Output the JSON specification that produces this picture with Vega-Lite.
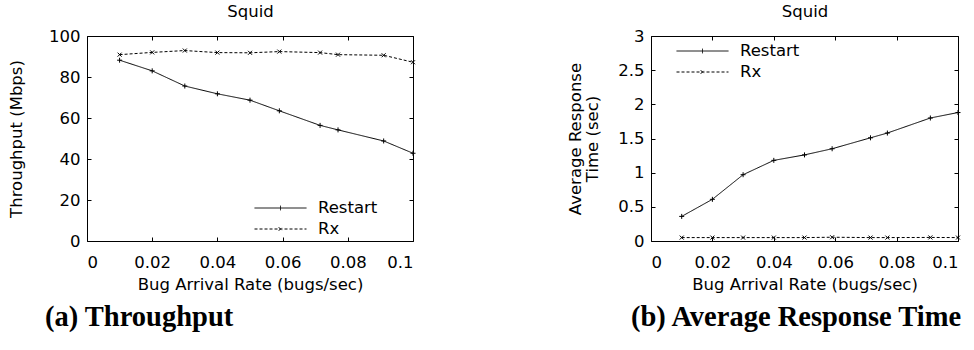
{
  "$schema": "https://vega.github.io/schema/vega-lite/v6.json",
  "background": "white",
  "padding": {"left": 8, "top": 3, "right": 5, "bottom": 5},
  "bounds": "flush",
  "spacing": 238,
  "resolve": {"scale": {"strokeDash": "independent"}, "legend": {"strokeDash": "independent"}},
  "datasets": {
    "throughput": [
      {"rate": 0.01, "series": "Restart", "value": 88.2},
      {"rate": 0.02, "series": "Restart", "value": 83.0},
      {"rate": 0.03, "series": "Restart", "value": 75.6},
      {"rate": 0.04, "series": "Restart", "value": 71.8},
      {"rate": 0.05, "series": "Restart", "value": 68.7},
      {"rate": 0.059, "series": "Restart", "value": 63.5},
      {"rate": 0.0715, "series": "Restart", "value": 56.4},
      {"rate": 0.077, "series": "Restart", "value": 54.2},
      {"rate": 0.091, "series": "Restart", "value": 48.8},
      {"rate": 0.1, "series": "Restart", "value": 42.8},
      {"rate": 0.01, "series": "Rx", "value": 90.9},
      {"rate": 0.02, "series": "Rx", "value": 92.0},
      {"rate": 0.03, "series": "Rx", "value": 92.9},
      {"rate": 0.04, "series": "Rx", "value": 91.9},
      {"rate": 0.05, "series": "Rx", "value": 91.8},
      {"rate": 0.059, "series": "Rx", "value": 92.4},
      {"rate": 0.0715, "series": "Rx", "value": 91.9},
      {"rate": 0.077, "series": "Rx", "value": 90.9},
      {"rate": 0.091, "series": "Rx", "value": 90.6},
      {"rate": 0.1, "series": "Rx", "value": 87.2}
    ],
    "response": [
      {"rate": 0.01, "series": "Restart", "value": 0.36},
      {"rate": 0.02, "series": "Restart", "value": 0.61},
      {"rate": 0.03, "series": "Restart", "value": 0.97},
      {"rate": 0.04, "series": "Restart", "value": 1.18},
      {"rate": 0.05, "series": "Restart", "value": 1.26},
      {"rate": 0.059, "series": "Restart", "value": 1.35},
      {"rate": 0.0715, "series": "Restart", "value": 1.51},
      {"rate": 0.077, "series": "Restart", "value": 1.58},
      {"rate": 0.091, "series": "Restart", "value": 1.8},
      {"rate": 0.1, "series": "Restart", "value": 1.88},
      {"rate": 0.01, "series": "Rx", "value": 0.05},
      {"rate": 0.02, "series": "Rx", "value": 0.05},
      {"rate": 0.03, "series": "Rx", "value": 0.05},
      {"rate": 0.04, "series": "Rx", "value": 0.05},
      {"rate": 0.05, "series": "Rx", "value": 0.05},
      {"rate": 0.059, "series": "Rx", "value": 0.055},
      {"rate": 0.0715, "series": "Rx", "value": 0.05},
      {"rate": 0.077, "series": "Rx", "value": 0.05},
      {"rate": 0.091, "series": "Rx", "value": 0.052},
      {"rate": 0.1, "series": "Rx", "value": 0.05}
    ]
  },
  "config": {
    "view": {"stroke": "black", "strokeWidth": 1},
    "axis": {
      "labelFont": "DejaVu Sans",
      "labelFontSize": 16.5,
      "labelColor": "black",
      "titleFont": "DejaVu Sans",
      "titleFontSize": 16.5,
      "titleFontWeight": "normal",
      "titleColor": "black",
      "tickColor": "black",
      "tickSize": -4,
      "grid": false,
      "domain": false
    },
    "legend": {
      "symbolSize": 2704,
      "symbolStrokeWidth": 1,
      "symbolStrokeColor": "black",
      "labelFont": "DejaVu Sans",
      "labelFontSize": 16.5,
      "labelColor": "black",
      "labelOffset": 11,
      "padding": 0,
      "rowPadding": 1,
      "clipHeight": 20
    },
    "title": {
      "font": "Liberation Serif",
      "fontSize": 28.5,
      "fontWeight": "bold",
      "color": "black"
    }
  },
  "hconcat": [
    {
      "width": 326,
      "height": 205,
      "data": {"name": "throughput"},
      "title": {"text": "(a) Throughput", "orient": "bottom", "anchor": "start", "frame": "group", "dx": -42, "offset": 10},
      "layer": [
        {
          "mark": {"type": "line", "color": "black", "strokeWidth": 1},
          "encoding": {
            "x": {"field": "rate", "type": "quantitative", "scale": {"domain": [0, 0.1], "nice": false, "zero": false},
                  "axis": {"orient": "bottom", "values": [0, 0.02, 0.04, 0.06, 0.08, 0.1], "format": ".2~f", "title": "Bug Arrival Rate (bugs/sec)", "labelPadding": 17, "titlePadding": 6}},
            "y": {"field": "value", "type": "quantitative", "scale": {"domain": [0, 100], "nice": false},
                  "axis": {"orient": "left", "values": [0, 20, 40, 60, 80, 100], "title": "Throughput (Mbps)", "labelPadding": 11, "titlePadding": 24}},
            "strokeDash": {"field": "series", "type": "nominal",
                           "scale": {"domain": ["Restart", "Rx"], "range": [[1, 0], [3, 2]]},
                           "legend": {"title": null, "orient": "none", "legendX": 167, "legendY": 162,
                                      "encode": {"symbols": {"update": {"shape": {"signal": "datum.value === 'Restart' ? 'M-1,0L1,0M0,-0.09L0,0.09' : 'M-1,0L1,0M-0.07,-0.07L0.07,0.07M-0.07,0.07L0.07,-0.07'"}}}}}}
          }
        },
        {
          "transform": [{"filter": "datum.series === 'Restart'"}],
          "mark": {"type": "point", "filled": false, "color": "black", "strokeWidth": 1, "opacity": 1, "shape": "M-1,0L1,0M0,-1L0,1", "size": 25},
          "encoding": {
            "x": {"field": "rate", "type": "quantitative", "axis": null},
            "y": {"field": "value", "type": "quantitative", "axis": null}
          }
        },
        {
          "transform": [{"filter": "datum.series === 'Rx'"}],
          "mark": {"type": "point", "filled": false, "color": "black", "strokeWidth": 1, "opacity": 1, "shape": "M-1,-1L1,1M-1,1L1,-1", "size": 16},
          "encoding": {
            "x": {"field": "rate", "type": "quantitative", "axis": null},
            "y": {"field": "value", "type": "quantitative", "axis": null}
          }
        },
        {
          "mark": {"type": "point", "opacity": 0},
          "encoding": {
            "x": {"field": "rate", "type": "quantitative", "axis": {"orient": "top", "values": [0, 0.02, 0.04, 0.06, 0.08, 0.1], "labels": false, "title": "Squid", "titlePadding": 16}},
            "y": {"field": "value", "type": "quantitative", "axis": {"orient": "right", "values": [0, 20, 40, 60, 80, 100], "labels": false, "title": null}}
          }
        }
      ],
      "resolve": {"axis": {"x": "independent", "y": "independent"}}
    },
    {
      "width": 307,
      "height": 205,
      "data": {"name": "response"},
      "title": {"text": "(b) Average Response Time", "orient": "bottom", "anchor": "start", "frame": "group", "dx": -20, "offset": 10},
      "layer": [
        {
          "mark": {"type": "line", "color": "black", "strokeWidth": 1},
          "encoding": {
            "x": {"field": "rate", "type": "quantitative", "scale": {"domain": [0, 0.1], "nice": false, "zero": false},
                  "axis": {"orient": "bottom", "values": [0, 0.02, 0.04, 0.06, 0.08, 0.1], "format": ".2~f", "title": "Bug Arrival Rate (bugs/sec)", "labelPadding": 17, "titlePadding": 6}},
            "y": {"field": "value", "type": "quantitative", "scale": {"domain": [0, 3], "nice": false},
                  "axis": {"orient": "left", "values": [0, 0.5, 1, 1.5, 2, 2.5, 3], "format": "~g", "title": ["Average Response", "Time (sec)"], "titleLineHeight": 17, "labelPadding": 11, "titlePadding": 17}},
            "strokeDash": {"field": "series", "type": "nominal",
                           "scale": {"domain": ["Restart", "Rx"], "range": [[1, 0], [3, 2]]},
                           "legend": {"title": null, "orient": "none", "legendX": 25, "legendY": 5,
                                      "encode": {"symbols": {"update": {"shape": {"signal": "datum.value === 'Restart' ? 'M-1,0L1,0M0,-0.09L0,0.09' : 'M-1,0L1,0M-0.07,-0.07L0.07,0.07M-0.07,0.07L0.07,-0.07'"}}}}}}
          }
        },
        {
          "transform": [{"filter": "datum.series === 'Restart'"}],
          "mark": {"type": "point", "filled": false, "color": "black", "strokeWidth": 1, "opacity": 1, "shape": "M-1,0L1,0M0,-1L0,1", "size": 25},
          "encoding": {
            "x": {"field": "rate", "type": "quantitative", "axis": null},
            "y": {"field": "value", "type": "quantitative", "axis": null}
          }
        },
        {
          "transform": [{"filter": "datum.series === 'Rx'"}],
          "mark": {"type": "point", "filled": false, "color": "black", "strokeWidth": 1, "opacity": 1, "shape": "M-1,-1L1,1M-1,1L1,-1", "size": 16},
          "encoding": {
            "x": {"field": "rate", "type": "quantitative", "axis": null},
            "y": {"field": "value", "type": "quantitative", "axis": null}
          }
        },
        {
          "mark": {"type": "point", "opacity": 0},
          "encoding": {
            "x": {"field": "rate", "type": "quantitative", "axis": {"orient": "top", "values": [0, 0.02, 0.04, 0.06, 0.08, 0.1], "labels": false, "title": "Squid", "titlePadding": 16}},
            "y": {"field": "value", "type": "quantitative", "axis": {"orient": "right", "values": [0, 0.5, 1, 1.5, 2, 2.5, 3], "labels": false, "title": null}}
          }
        }
      ],
      "resolve": {"axis": {"x": "independent", "y": "independent"}}
    }
  ]
}
